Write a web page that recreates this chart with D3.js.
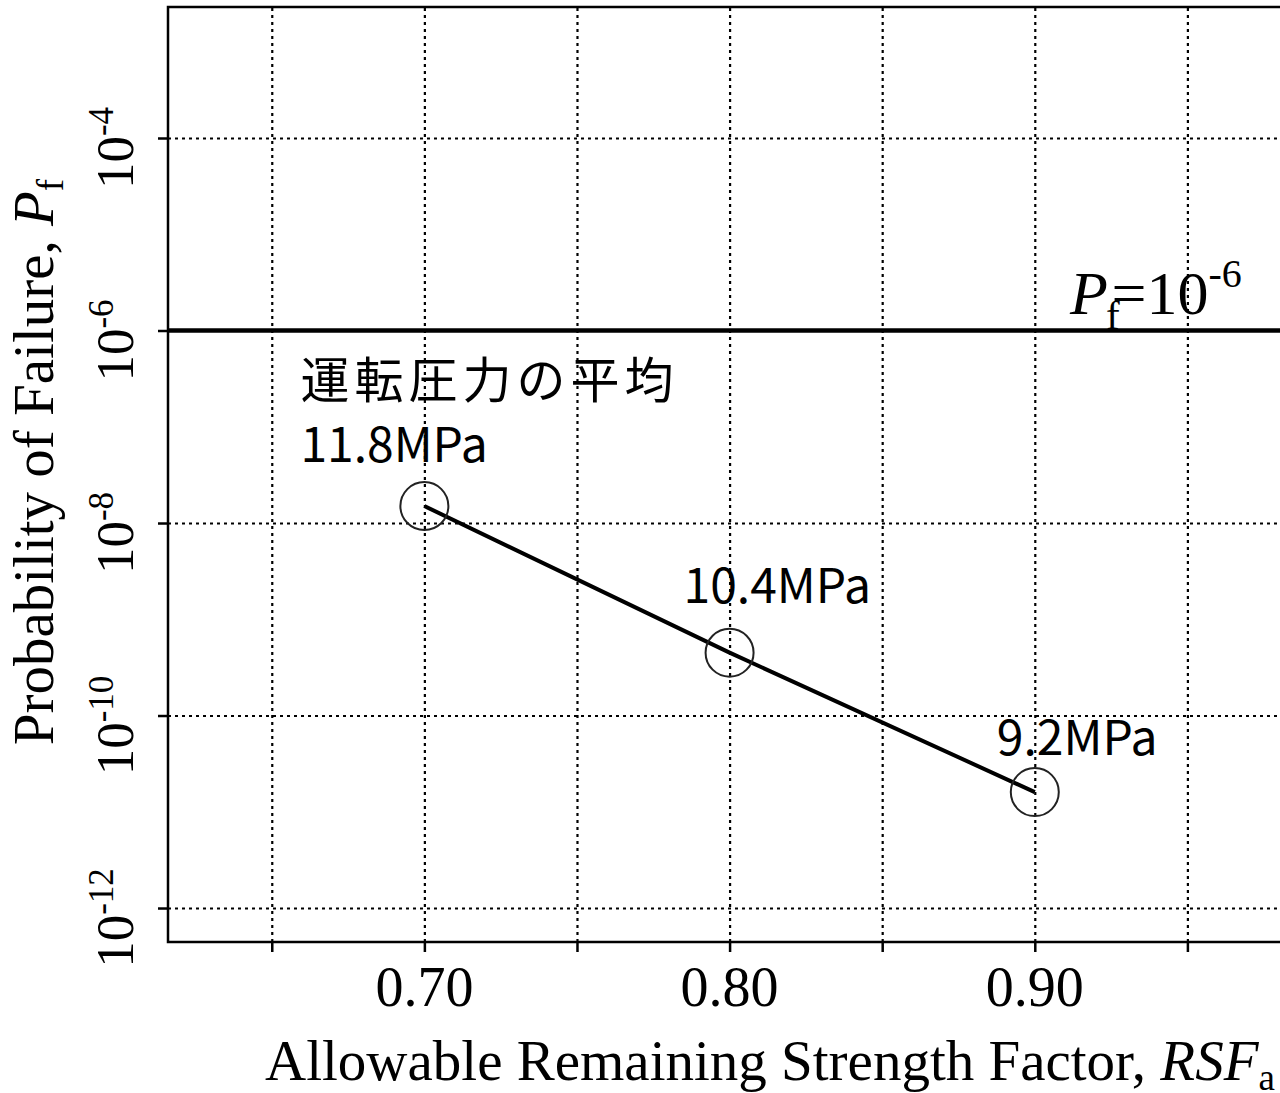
<!DOCTYPE html>
<html lang="ja">
<head>
<meta charset="UTF-8">
<title>Probability of Failure vs RSFa</title>
<script src="https://d3js.org/d3.v7.min.js"></script>
<style>
  body { margin: 0; background: #fff; }
  svg { display: block; }
  .grid line { stroke: #000; stroke-width: 2.2; stroke-dasharray: 3,4; }
  .grid path { display: none; }
  .axis path { display: none; }
  .axis line { stroke: #000; stroke-width: 2.5; }
  .frame { stroke: #000; stroke-width: 2.5; fill: none; }
  .serif { font-family: "Liberation Serif", "Times New Roman", serif; fill: #000; }
  .note { font-family: "Noto Sans CJK JP", "Noto Sans", sans-serif; fill: #000; }
</style>
</head>
<body>
<div id="chart"></div>
<script>
// data
var rsf = [0.70, 0.80, 0.90];
var pf = [1.5e-8, 4.5e-10, 1.6e-11];
var pressureLabels = ["11.8MPa", "10.4MPa", "9.2MPa"];
var xTicks = [0.65, 0.70, 0.75, 0.80, 0.85, 0.90, 0.95];
var xTickLabels = ["0.70", "0.80", "0.90"];
var yTickExps = [-4, -6, -8, -10, -12];
var threshold = 1e-6;

var width = 1280, height = 1093;
var margin = { top: 7, left: 168 };
var innerW = 1172, innerH = 935;

var svg = d3.select("#chart").append("svg")
    .attr("width", width)
    .attr("height", height);

var g = svg.append("g")
    .attr("transform", `translate(${margin.left},${margin.top})`);

var x = d3.scaleLinear().domain([0.616, 1.0]).range([0, innerW]);
var y = d3.scaleLog().domain([Math.pow(10, -12.353), Math.pow(10, -2.639)]).range([innerH, 0]);
var yTicks = yTickExps.map(e => Math.pow(10, e));

// dotted grid
g.append("g").attr("class", "grid")
    .attr("transform", `translate(0,${innerH})`)
    .call(d3.axisBottom(x).tickValues(xTicks).tickSize(-innerH).tickFormat(""));
g.append("g").attr("class", "grid")
    .call(d3.axisLeft(y).tickValues(yTicks).tickSize(-innerW).tickFormat(""));

// tick marks
g.append("g").attr("class", "axis")
    .attr("transform", `translate(0,${innerH})`)
    .call(d3.axisBottom(x).tickValues(xTicks).tickSize(10).tickFormat(""));
g.append("g").attr("class", "axis")
    .call(d3.axisLeft(y).tickValues(yTicks).tickSize(10).tickFormat(""));

// frame (right side falls outside the picture)
g.append("path").attr("class", "frame")
    .attr("d", `M${innerW},0H0V${innerH}H${innerW}`);

// x tick labels
g.selectAll(".xlab").data(xTickLabels).enter().append("text")
    .attr("class", "serif")
    .attr("x", d => x(+d))
    .attr("y", innerH + 64)
    .attr("text-anchor", "middle")
    .attr("font-size", 56)
    .text(d => d);

// y tick labels (rotated, 10 with superscript)
var yl = g.selectAll(".ylab").data(yTickExps).enter().append("text")
    .attr("class", "serif")
    .attr("transform", d => `translate(-35,${y(Math.pow(10, d)) + 10}) rotate(-90)`)
    .attr("text-anchor", "middle")
    .attr("font-size", 53);
yl.append("tspan").text("10");
yl.append("tspan").attr("font-size", 35).attr("dy", -20).text(d => d);

// threshold line
g.append("line")
    .attr("x1", 0).attr("x2", innerW)
    .attr("y1", y(threshold)).attr("y2", y(threshold))
    .attr("stroke", "#000").attr("stroke-width", 4.5);

var th = g.append("text").attr("class", "serif")
    .attr("x", 1070 - margin.left)
    .attr("y", y(threshold) - 17)
    .attr("font-size", 62);
th.append("tspan").attr("font-style", "italic").text("P");
th.append("tspan").attr("font-size", 41).attr("dy", 15).attr("dx", -2).text("f");
th.append("tspan").attr("dy", -15).attr("dx", -8).text("=10");
th.append("tspan").attr("font-size", 40).attr("dy", -27).text("-6");

// data line and circles
var pts = rsf.map((r, i) => ({ x: r, y: pf[i], label: pressureLabels[i] }));
g.append("path").datum(pts)
    .attr("fill", "none").attr("stroke", "#000").attr("stroke-width", 4)
    .attr("d", d3.line().x(d => x(d.x)).y(d => y(d.y)));

g.selectAll(".pt").data(pts).enter().append("circle")
    .attr("cx", d => x(d.x)).attr("cy", d => y(d.y)).attr("r", 24)
    .attr("fill", "none").attr("stroke", "#222").attr("stroke-width", 2);

// pressure annotations
var labelOffsets = [[-124, -44], [-46, -50], [-38, -37]];
g.selectAll(".plab").data(pts).enter().append("text")
    .attr("class", "note")
    .attr("x", (d, i) => x(d.x) + labelOffsets[i][0])
    .attr("y", (d, i) => y(d.y) + labelOffsets[i][1])
    .attr("font-size", 48)
    .text(d => d.label);

g.append("text").attr("class", "note")
    .attr("x", x(0.70) - 124)
    .attr("y", y(pf[0]) - 108)
    .attr("font-size", 49)
    .attr("letter-spacing", 5)
    .text("運転圧力の平均");

// axis titles
var xt = svg.append("text").attr("class", "serif")
    .attr("x", 265).attr("y", 1080)
    .attr("font-size", 57);
xt.append("tspan").text("Allowable Remaining Strength Factor, ");
xt.append("tspan").attr("font-style", "italic").text("RSF");
xt.append("tspan").attr("font-size", 37).attr("dy", 10).text("a");

var yt = svg.append("text").attr("class", "serif")
    .attr("transform", "translate(53,462) rotate(-90)")
    .attr("text-anchor", "middle")
    .attr("font-size", 57);
yt.append("tspan").text("Probability of Failure, ");
yt.append("tspan").attr("font-style", "italic").text("P");
yt.append("tspan").attr("font-size", 37).attr("dy", 10).text("f");
</script>
</body>
</html>
